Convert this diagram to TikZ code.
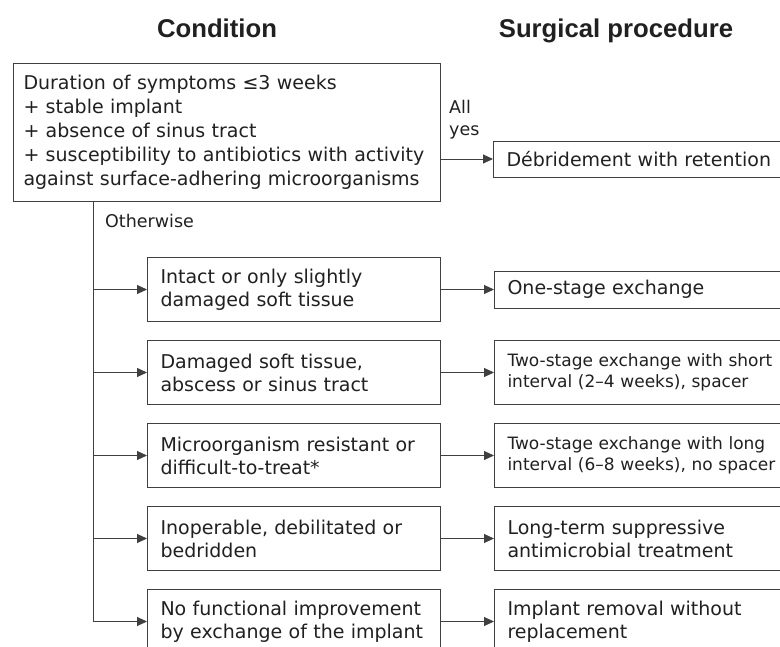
\documentclass[tikz,border=0pt]{standalone}
\usepackage{fontspec}
\setmainfont{DejaVu Sans}
\newfontfamily\headfont{Liberation Sans}
\usetikzlibrary{arrows.meta,positioning}

\tikzset{
  box/.style={draw=kLine, line width=1pt, text=kText, inner xsep=13pt, inner ysep=0pt,
    anchor=north west, align=left, font=\fontsize{19}{23}\selectfont},
  condbox/.style={box, text width=267pt, minimum height=64pt},
  procbox/.style={box, text width=300pt, minimum height=64pt},
  smallproc/.style={procbox, font=\fontsize{17}{21}\selectfont},
  slimproc/.style={box, text width=300pt, minimum height=37pt},
  heading/.style={text=kText, font=\headfont\bfseries\fontsize{25.7}{30}\selectfont,
    anchor=base, inner sep=0pt},
  tag/.style={text=kText, font=\fontsize{17.5}{22}\selectfont, inner sep=0pt, align=left},
  link/.style={draw=kLine, line width=1pt},
  arr/.style={link, -{Triangle[length=10pt,width=9pt]}},
}

\begin{document}
\begin{tikzpicture}[x=1pt,y=-1pt]
  % colors
  \definecolor{kLine}{rgb}{0.25,0.25,0.25}
  \definecolor{kText}{rgb}{0.13,0.12,0.13}
  % frame
  \clip (0,0) rectangle (780,646);
  % headings
  \node[heading] (hcond) at (217,37) {Condition};
  \node[heading] (hproc) at (616,37) {Surgical procedure};

  % first question
  \node[box, text width=407pt, inner xsep=10pt, minimum height=138pt,
    font=\fontsize{19}{24}\selectfont] (top) at (13,63)
    {Duration of symptoms ≤3 weeks\\+ stable implant\\+ absence of sinus tract\\%
     + susceptibility to antibiotics with activity\\against surface-adhering microorganisms};
  \node[slimproc, minimum height=36pt, anchor=west] (deb) at (493,159) {Débridement with retention};
  \node[tag, anchor=north west] (allyes) at (449,100) {All\\yes};
  \draw[arr] (top.east |- deb.west) -- (deb.west);

  % conditions
  \node[condbox] (c1) at (147,257) {Intact or only slightly\\damaged soft tissue};
  \node[condbox] (c2) at (147,340) {Damaged soft tissue,\\abscess or sinus tract};
  \node[condbox] (c3) at (147,423) {Microorganism resistant or\\difficult-to-treat*};
  \node[condbox] (c4) at (147,506) {Inoperable, debilitated or\\bedridden};
  \node[condbox] (c5) at (147,589) {No functional improvement\\by exchange of the implant};

  % procedures
  \node[slimproc, right=53pt of c1] (p1) {One-stage exchange};
  \node[smallproc, right=53pt of c2] (p2) {Two-stage exchange with short\\interval (2–4 weeks), spacer};
  \node[smallproc, right=53pt of c3] (p3) {Two-stage exchange with long\\interval (6–8 weeks), no spacer};
  \node[procbox, right=53pt of c4] (p4) {Long-term suppressive\\antimicrobial treatment};
  \node[procbox, right=53pt of c5] (p5) {Implant removal without\\replacement};

  % branches
  \coordinate (trunk) at ([xshift=80pt]top.south west);
  \node[tag, anchor=base west] (other) at (105,227) {Otherwise};
  \draw[arr] (trunk) |- (c5.west);
  \foreach \i in {1,...,4} {
    \draw[arr] (trunk |- c\i.west) -- (c\i.west);
  };
  \foreach \i in {1,...,5} {
    \draw[arr] (c\i.east) -- (p\i.west);
  };
\end{tikzpicture}
\end{document}
